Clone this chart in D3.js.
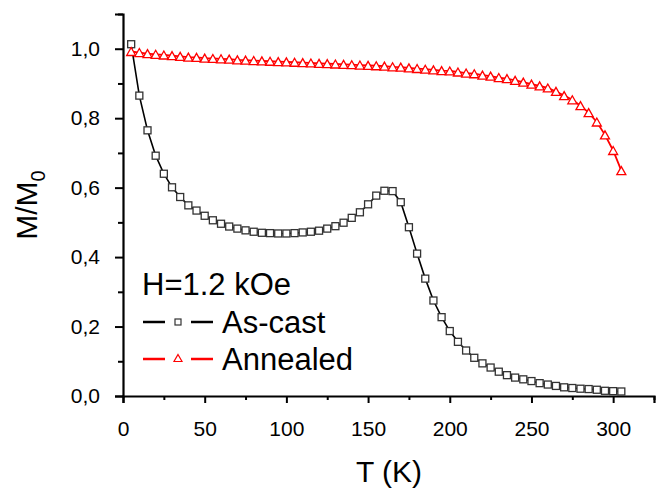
<!DOCTYPE html>
<html>
<head>
<meta charset="utf-8">
<script src="https://cdn.jsdelivr.net/npm/d3@7"></script>
<style>
body { margin: 0; background: #fff; }
text { font-family: "Liberation Sans", Arial, sans-serif; fill: #000; }
</style>
</head>
<body>
<svg id="chart" width="656" height="489"></svg>
<script>
// temperatures (K)
let temps = [5, 10, 15, 20, 25, 30, 35, 40, 45, 50, 55, 60, 65, 70, 75, 80, 85, 90, 95, 100,
  105, 110, 115, 120, 125, 130, 135, 140, 145, 150, 155, 160, 165, 170, 175, 180, 185, 190, 195, 200,
  205, 210, 215, 220, 225, 230, 235, 240, 245, 250, 255, 260, 265, 270, 275, 280, 285, 290, 295, 300, 305];

let asCast = [1.013, 0.865, 0.765, 0.692, 0.640, 0.601, 0.573, 0.549, 0.534, 0.519,
  0.506, 0.496, 0.488, 0.482, 0.477, 0.473, 0.470, 0.469, 0.468, 0.468,
  0.469, 0.471, 0.473, 0.476, 0.482, 0.489, 0.499, 0.513, 0.529, 0.552,
  0.577, 0.591, 0.590, 0.558, 0.486, 0.410, 0.338, 0.275, 0.227, 0.187,
  0.156, 0.131, 0.110, 0.094, 0.082, 0.070, 0.060, 0.053, 0.048, 0.043,
  0.037, 0.033, 0.029, 0.025, 0.023, 0.021, 0.020, 0.018, 0.015, 0.014, 0.013];

let annealed = [0.992, 0.989, 0.986, 0.984, 0.982, 0.980, 0.978, 0.976, 0.975, 0.973,
  0.972, 0.971, 0.970, 0.968, 0.967, 0.966, 0.965, 0.964, 0.963, 0.962,
  0.961, 0.960, 0.959, 0.958, 0.957, 0.956, 0.955, 0.954, 0.953, 0.952,
  0.951, 0.950, 0.948, 0.947, 0.945, 0.943, 0.941, 0.939, 0.937, 0.936,
  0.933, 0.930, 0.928, 0.924, 0.921, 0.917, 0.914, 0.909, 0.904, 0.898,
  0.893, 0.887, 0.877, 0.865, 0.853, 0.836, 0.816, 0.789, 0.752, 0.707, 0.649];

let xTicks = [0, 50, 100, 150, 200, 250, 300];
let xMinor = [25, 75, 125, 175, 225, 275, 325];
let yTicks = [0, 0.2, 0.4, 0.6, 0.8, 1.0];
let yMinor = [0.1, 0.3, 0.5, 0.7, 0.9, 1.1];

let svg = d3.select("#chart");

let x = d3.scaleLinear().domain([0, 325]).range([123, 654]);
let y = d3.scaleLinear().domain([0, 1.1]).range([396, 14]);

let comma = d => d3.format(".1f")(d).replace(".", ",");

// axes
let xAxis = svg.append("g").attr("transform", "translate(0,396)")
  .call(d3.axisBottom(x).tickValues(xTicks).tickSize(7).tickPadding(18).tickFormat(d3.format("d")));
svg.append("g").attr("transform", "translate(0,396)")
  .call(d3.axisBottom(x).tickValues(xMinor).tickSize(4).tickFormat(""))
  .select(".domain").remove();
let yAxis = svg.append("g").attr("transform", "translate(123,0)")
  .call(d3.axisLeft(y).tickValues(yTicks).tickSize(8).tickPadding(15).tickFormat(comma));
svg.append("g").attr("transform", "translate(123,0)")
  .call(d3.axisLeft(y).tickValues(yMinor).tickSize(5).tickFormat(""))
  .select(".domain").remove();

svg.selectAll(".domain").attr("stroke-width", 2.2);
svg.selectAll(".tick line").attr("stroke-width", 2);
svg.selectAll(".tick text").style("font-size", "21px").attr("fill", "#000");

// axis titles
svg.append("text").text("T (K)").attr("x", 389).attr("y", 482)
  .attr("text-anchor", "middle").style("font-size", "30px");
let yt = svg.append("text").attr("transform", "translate(37,205) rotate(-90)")
  .attr("text-anchor", "middle").style("font-size", "30px");
yt.append("tspan").text("M/M");
yt.append("tspan").text("0").style("font-size", "20px").attr("dy", 8);

// series
let line = d3.line().x((d, i) => x(temps[i])).y(d => y(d));

svg.append("path").datum(asCast).attr("d", line)
  .attr("fill", "none").attr("stroke", "#000").attr("stroke-width", 1.6);
svg.append("path").datum(annealed).attr("d", line)
  .attr("fill", "none").attr("stroke", "#ff0000").attr("stroke-width", 1.8);

let tri = (w, h) => "M0," + (-h / 2) + "L" + (w / 2) + "," + (h / 2) + "L" + (-w / 2) + "," + (h / 2) + "Z";

svg.selectAll("rect.sq").data(asCast).enter().append("rect").attr("class", "sq")
  .attr("x", (d, i) => x(temps[i]) - 3.5)
  .attr("y", d => y(d) - 3.5)
  .attr("width", 7).attr("height", 7)
  .attr("fill", "#fff").attr("stroke", "#333").attr("stroke-width", 1.3);

svg.selectAll("path.tr").data(annealed).enter().append("path").attr("class", "tr")
  .attr("d", tri(9, 8))
  .attr("transform", (d, i) => "translate(" + x(temps[i]) + "," + y(d) + ")")
  .attr("fill", "#fff").attr("stroke", "#ff0000").attr("stroke-width", 1.3);

// legend
svg.append("text").text("H=1.2 kOe").attr("x", 142).attr("y", 295).style("font-size", "31px");

let leg = [
  { name: "As-cast", color: "#000", y: 322 },
  { name: "Annealed", color: "#ff0000", y: 359 }
];
leg.forEach((l, i) => {
  svg.append("line").attr("x1", 143).attr("x2", 165).attr("y1", l.y).attr("y2", l.y)
    .attr("stroke", l.color).attr("stroke-width", 2.5);
  svg.append("line").attr("x1", 191).attr("x2", 213).attr("y1", l.y).attr("y2", l.y)
    .attr("stroke", l.color).attr("stroke-width", 2.5);
  if (i == 0) {
    svg.append("rect").attr("x", 175).attr("y", l.y - 3).attr("width", 6).attr("height", 6)
      .attr("fill", "#fff").attr("stroke", "#333").attr("stroke-width", 1.2);
  } else {
    svg.append("path").attr("d", tri(8, 7)).attr("transform", "translate(178," + (l.y - 1) + ")")
      .attr("fill", "#fff").attr("stroke", "#ff0000").attr("stroke-width", 1.2);
  }
  svg.append("text").text(l.name).attr("x", 222).attr("y", l.y + 11).style("font-size", "31px");
});
</script>
</body>
</html>
